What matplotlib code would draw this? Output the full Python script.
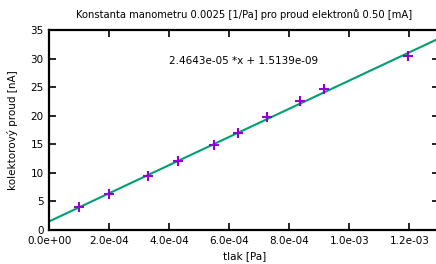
import numpy as np
import matplotlib
matplotlib.use('Agg')
import matplotlib.pyplot as plt
from matplotlib.ticker import FormatStrFormatter

#%% data
tlak  = [1.0e-4, 2.0e-4, 3.3e-4, 4.3e-4, 5.5e-4, 6.3e-4, 7.26e-4, 8.36e-4, 9.15e-4, 1.196e-3]   # Pa
proud = [4.1, 6.3, 9.45, 12.0, 14.8, 17.0, 19.8, 22.5, 24.7, 30.4]                              # nA

# fit y = a*x + b (in A)
a = 2.4643e-05
b = 1.5139e-09

title  = 'Konstanta manometru 0.0025 [1/Pa] pro proud elektronů 0.50 [mA]'
xlabel = 'tlak [Pa]'
ylabel = 'kolektorový proud [nA]'

#%% plot
plt.rcParams['font.family'] = ['DejaVu Sans']
plt.rcParams['font.size'] = 7.5

W, H = 436, 264
fig = plt.figure(figsize=(W/100, H/100), dpi=100)
ax = fig.add_axes([49.3/W, 34/H, 390/W, 200/H])

xx = np.linspace(0, 1.3e-3, 50)
ax.plot(xx, (a*xx + b)*1e9, color='#009e73', lw=1.5, zorder=2)
ax.plot(tlak, proud, linestyle='none', marker='+', ms=6.5, mew=1.5, color='#9400d3', zorder=3)

ax.text(4.0e-4, 29.5, '%.4e *x + %.4e' % (a, b), ha='left', va='center', fontsize=7.5)

ax.set_xlim(0, 1.3e-3)
ax.set_ylim(0, 35)
ax.set_xticks(np.arange(0, 1.3e-3, 2e-4))
ax.set_yticks(np.arange(0, 36, 5))
ax.xaxis.set_major_formatter(FormatStrFormatter('%.1e'))
ax.tick_params(direction='in', length=5, width=1.2, top=True, right=True, pad=4)
for s in ax.spines.values():
    s.set_linewidth(1.6)

ax.set_title(title, fontsize=7.2, pad=9)
ax.set_xlabel(xlabel, labelpad=4)
ax.set_ylabel(ylabel, labelpad=9)

fig.savefig('out.png', dpi=100)
